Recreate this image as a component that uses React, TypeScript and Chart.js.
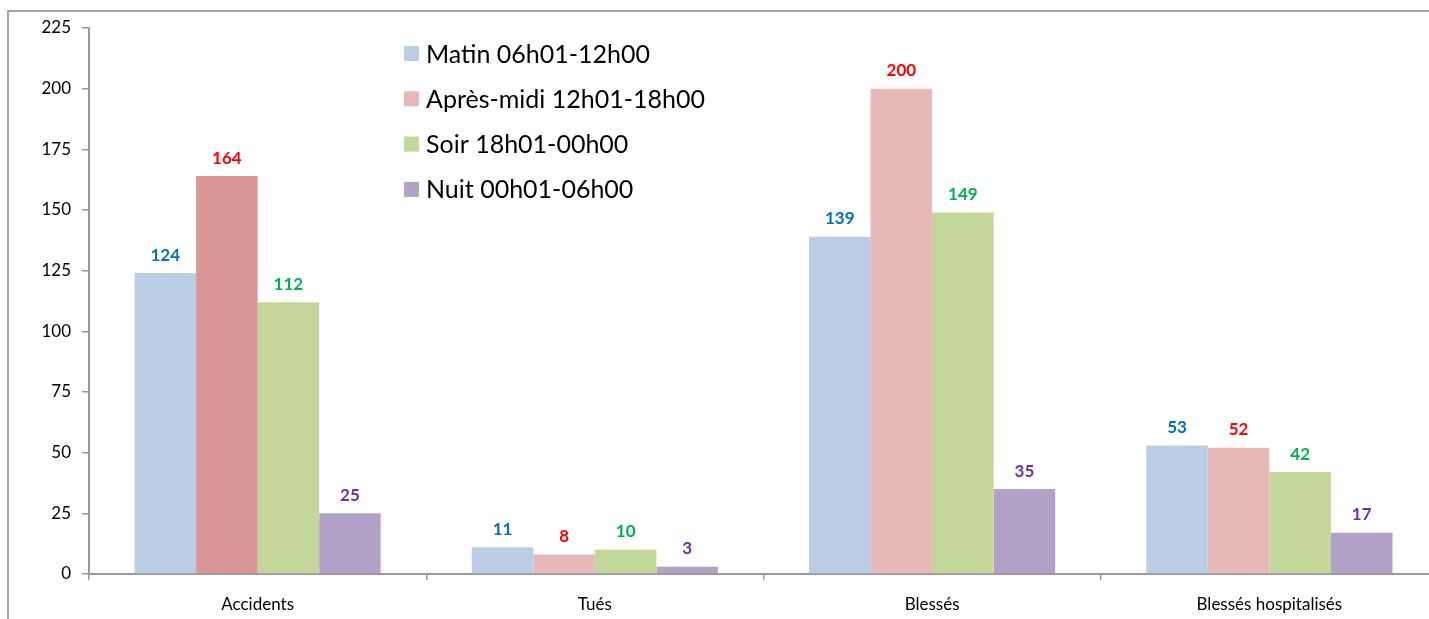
import React, { useEffect, useRef } from "react";
import { Chart, registerables } from "chart.js";

Chart.register(...registerables);

const categories = ["Accidents", "Tués", "Blessés", "Blessés hospitalisés"];
const seriesNames = [
  "Matin 06h01-12h00",
  "Après-midi 12h01-18h00",
  "Soir 18h01-00h00",
  "Nuit 00h01-06h00",
];
const matin = [124, 11, 139, 53];
const apresMidi = [164, 8, 200, 52];
const soir = [112, 10, 149, 42];
const nuit = [25, 3, 35, 17];
const yTicks = [0, 25, 50, 75, 100, 125, 150, 175, 200, 225];

const FONT = "Lato, 'Open Sans', sans-serif";
const barColors = ["#B9CDE5", "#E6B9B8", "#C4D79B", "#B3A2C7"];
const apresMidiColors = ["#D99694", "#E6B9B8", "#E6B9B8", "#E6B9B8"];
const labelColors = ["#0070C0", "#FF0000", "#00B050", "#7030A0"];

const valueLabels = {
  id: "valueLabels",
  afterDatasetsDraw(chart: any) {
    const ctx = chart.ctx;
    ctx.save();
    ctx.font = `bold 17px ${FONT}`;
    ctx.textAlign = "center";
    ctx.textBaseline = "middle";
    chart.data.datasets.forEach((ds: any, i: number) => {
      const meta = chart.getDatasetMeta(i);
      ctx.fillStyle = labelColors[i];
      meta.data.forEach((bar: any, j: number) => {
        ctx.fillText(String(ds.data[j]), bar.x, bar.y - 18);
      });
    });
    ctx.restore();
  },
};

const customLegend = {
  id: "customLegend",
  afterDraw(chart: any) {
    const ctx = chart.ctx;
    ctx.save();
    ctx.font = `25px ${FONT}`;
    ctx.textAlign = "left";
    ctx.textBaseline = "middle";
    const x0 = 395;
    const y0 = 41.5;
    const gap = 45.3;
    seriesNames.forEach((name, i) => {
      const y = y0 + i * gap;
      ctx.fillStyle = i === 1 ? "#E6B9B8" : barColors[i];
      ctx.fillRect(x0, y - 7.5, 15, 15);
      ctx.fillStyle = "#000000";
      ctx.fillText(name, x0 + 22, y + 1);
    });
    ctx.restore();
  },
};

export default function App() {
  const canvasRef = useRef<HTMLCanvasElement | null>(null);

  useEffect(() => {
    if (!canvasRef.current) return;
    const chart = new Chart(canvasRef.current, {
      type: "bar",
      data: {
        labels: categories,
        datasets: [
          { label: seriesNames[0], data: matin, backgroundColor: barColors[0] },
          { label: seriesNames[1], data: apresMidi, backgroundColor: apresMidiColors },
          { label: seriesNames[2], data: soir, backgroundColor: barColors[2] },
          { label: seriesNames[3], data: nuit, backgroundColor: barColors[3] },
        ],
      },
      options: {
        responsive: false,
        animation: false,
        layout: { padding: { left: 0, top: 16, right: 3, bottom: 0 } },
        plugins: {
          legend: { display: false },
          tooltip: { enabled: false },
        },
        datasets: {
          bar: { categoryPercentage: 0.73, barPercentage: 1.0, borderWidth: 0 },
        },
        scales: {
          x: {
            grid: {
              display: true,
              drawOnChartArea: false,
              drawTicks: true,
              tickLength: 6,
              color: "#999999",
              lineWidth: 1.5,
              offset: true,
            },
            border: { display: true, color: "#999999", width: 2 },
            ticks: {
              color: "#000000",
              font: { family: FONT, size: 17 },
              padding: 14,
              maxRotation: 0,
              autoSkip: false,
            },
            afterFit(scale: any) {
              scale.height = 45;
              scale.paddingLeft = 0;
              scale.paddingRight = 0;
            },
          },
          y: {
            min: 0,
            max: 225,
            afterBuildTicks(scale: any) {
              scale.ticks = yTicks.map((v) => ({ value: v }));
            },
            grid: {
              display: true,
              drawOnChartArea: false,
              drawTicks: true,
              tickLength: 7,
              color: "#999999",
              lineWidth: 1.5,
            },
            border: { display: true, color: "#999999", width: 2 },
            ticks: {
              color: "#000000",
              font: { family: FONT, size: 17 },
              padding: 11,
            },
            afterFit(scale: any) {
              scale.width = 80;
              scale.paddingTop = 0;
              scale.paddingBottom = 0;
            },
          },
        },
      },
      plugins: [valueLabels, customLegend],
    });
    return () => chart.destroy();
  }, []);

  return (
    <div
      style={{
        position: "absolute",
        left: 7,
        top: 10,
        width: 1420,
        height: 607,
        overflow: "hidden",
        borderLeft: "2px solid #A6A6A6",
        borderTop: "2px solid #A6A6A6",
        background: "#ffffff",
      }}
    >
      <canvas ref={canvasRef} width={1432} height={607} style={{ display: "block" }} />
    </div>
  );
}
